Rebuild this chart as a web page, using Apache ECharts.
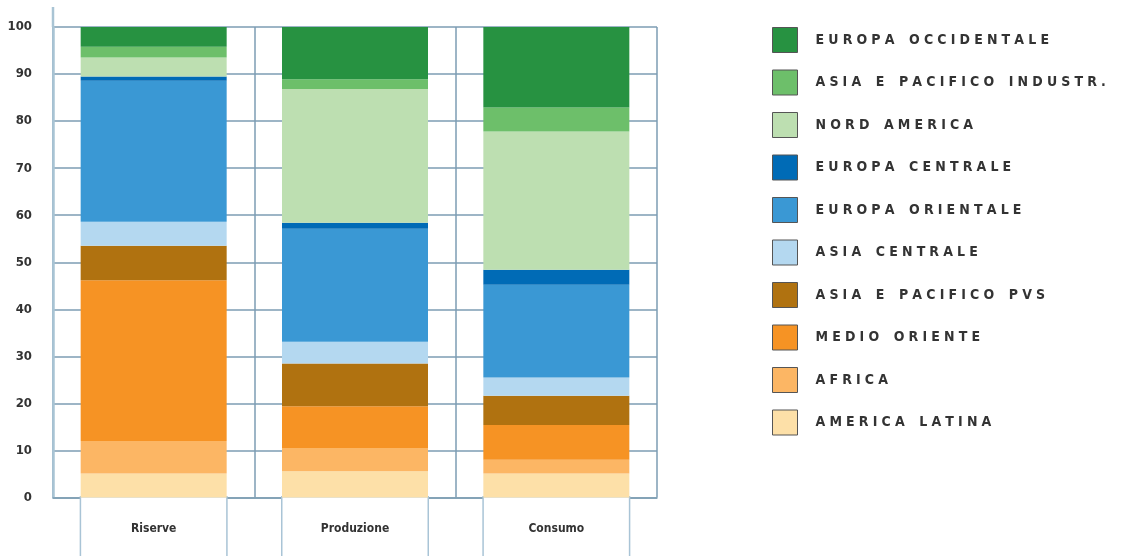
<!DOCTYPE html>
<html>
<head>
<meta charset="utf-8">
<title>Riserve, produzione e consumo</title>
<script src="https://cdn.jsdelivr.net/npm/echarts@6/dist/echarts.min.js"></script>
<style>
  html, body { margin: 0; padding: 0; background: #fff; }
  #chart { width: 1128px; height: 556px; }
</style>
</head>
<body>
<div id="chart"></div>
<script>
// categorie e quote percentuali, dal basso verso l'alto
const categories = ['Riserve', 'Produzione', 'Consumo'];
const yTicks = [0, 10, 20, 30, 40, 50, 60, 70, 80, 90, 100];

const americaLatina       = [5.1, 5.6, 5.1];
const africa              = [6.9, 4.9, 2.9];
const medioOriente        = [34.2, 8.9, 7.4];
const asiaPacificoPvs     = [7.3, 9.1, 6.2];
const asiaCentrale        = [5.1, 4.6, 3.9];
const europaOrientale     = [30.0, 24.0, 19.7];
const europaCentrale      = [0.9, 1.3, 3.2];
const nordAmerica         = [4.0, 28.4, 29.4];
const asiaPacificoIndustr = [2.3, 2.1, 5.1];
const europaOccidentale   = [4.2, 11.1, 17.1];

const regions = [
  ['AMERICA LATINA', americaLatina, '#fde0a8'],
  ['AFRICA', africa, '#fcb664'],
  ['MEDIO ORIENTE', medioOriente, '#f69324'],
  ['ASIA E PACIFICO PVS', asiaPacificoPvs, '#b07210'],
  ['ASIA CENTRALE', asiaCentrale, '#b4d8f0'],
  ['EUROPA ORIENTALE', europaOrientale, '#3a98d4'],
  ['EUROPA CENTRALE', europaCentrale, '#006bb6'],
  ['NORD AMERICA', nordAmerica, '#bddfb1'],
  ['ASIA E PACIFICO INDUSTR.', asiaPacificoIndustr, '#6dbf6a'],
  ['EUROPA OCCIDENTALE', europaOccidentale, '#279241']
];

const font = "'Liberation Sans Narrow', 'DejaVu Sans Condensed', 'Liberation Sans', sans-serif";
const gridColor = '#7c9db3';

// spaziatura larga delle lettere nella legenda
const spaced = name => name.split(' ').map(w => w.split('').join('\u2004')).join('\u2004\u2002\u2004');

const chart = echarts.init(document.getElementById('chart'));

chart.setOption({
  animation: false,
  grid: { left: 53, right: 471, top: 27, bottom: 58.5, outerBoundsMode: 'none' },
  legend: {
    orient: 'vertical',
    left: 772,
    top: 27,
    padding: 0,
    icon: 'rect',
    itemWidth: 25,
    itemHeight: 25,
    itemGap: 16.5,
    selectedMode: false,
    data: regions.map(r => r[0]).reverse(),
    itemStyle: { borderColor: '#555', borderWidth: 1 },
    formatter: spaced,
    textStyle: {
      fontFamily: font,
      fontWeight: 'bold',
      fontSize: 14,
      color: '#333',
      padding: [0, 0, 0, 13]
    }
  },
  xAxis: {
    type: 'category',
    data: categories,
    axisLine: { lineStyle: { color: gridColor, width: 1.5 } },
    axisTick: { show: false },
    splitLine: { show: true, lineStyle: { color: gridColor, width: 1.5 } },
    axisLabel: {
      margin: 0,
      width: 145,
      height: 62,
      lineHeight: 62,
      align: 'center',
      verticalAlign: 'top',
      borderColor: '#a9c4d6',
      borderWidth: 1.5,
      backgroundColor: '#fff',
      fontFamily: font,
      fontWeight: 'bold',
      fontSize: 12,
      color: '#333'
    }
  },
  yAxis: {
    type: 'value',
    min: 0,
    max: 100,
    interval: 10,
    axisLine: { show: true, lineStyle: { color: '#a9c4d4', width: 2.5 } },
    axisTick: { show: false },
    splitLine: { lineStyle: { color: gridColor, width: 1.5 } },
    axisLabel: {
      margin: 21,
      fontFamily: font,
      fontWeight: 'bold',
      fontSize: 13,
      color: '#333',
      customValues: yTicks
    }
  },
  graphic: [{
    type: 'line',
    shape: { x1: 53, y1: 7, x2: 53, y2: 27 },
    style: { stroke: '#a9c4d4', lineWidth: 2.5 }
  }],
  series: regions.map(([name, values, color]) => ({
    name: name,
    type: 'bar',
    stack: 'totale',
    barWidth: 146,
    itemStyle: { color: color },
    data: values
  }))
});
</script>
</body>
</html>
